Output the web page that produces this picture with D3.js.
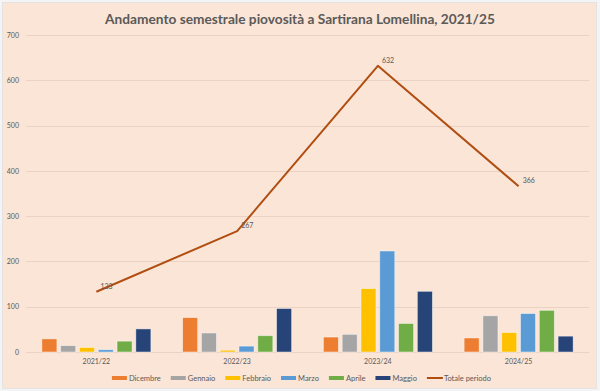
<!DOCTYPE html>
<html>
<head>
<meta charset="utf-8">
<script src="https://cdn.jsdelivr.net/npm/d3@7"></script>
<style>
  html, body { margin: 0; padding: 0; background: #f4f4f4; }
  svg { display: block; }
  text { font-family: Lato, "Open Sans", sans-serif; }
</style>
</head>
<body>
<svg id="chart" width="600" height="391"></svg>
<script>
const title = "Andamento semestrale piovosità a Sartirana Lomellina, 2021/25";
const categories = ["2021/22", "2022/23", "2023/24", "2024/25"];
const seriesNames = ["Dicembre", "Gennaio", "Febbraio", "Marzo", "Aprile", "Maggio"];
const seriesColors = ["#ED7D31", "#A5A5A5", "#FFC000", "#5B9BD5", "#70AD47", "#264478"];
const dicembre = [29, 76, 33, 31];
const gennaio  = [14, 42, 39, 80];
const febbraio = [10, 4, 140, 43];
const marzo    = [5, 13, 223, 85];
const aprile   = [24, 36, 63, 92];
const maggio   = [51, 96, 134, 35];
const totale   = [133, 267, 632, 366];
const totaleName = "Totale periodo";
const lineColor = "#B04E12";
const yTicks = [0, 100, 200, 300, 400, 500, 600, 700];

const seriesValues = [dicembre, gennaio, febbraio, marzo, aprile, maggio];

const svg = d3.select("#chart");
const W = 600, H = 391;
const textColor = "#595959";

// background
svg.append("rect").attr("x", 0).attr("y", 0).attr("width", W).attr("height", H).attr("fill", "#f4f4f4");
svg.append("rect").attr("x", 2.5).attr("y", 2.5).attr("width", 594).attr("height", 386)
  .attr("fill", "#FBE5D6").attr("stroke", "#e3e3e3").attr("stroke-width", 1);

const plot = { left: 26, right: 589, top: 35, bottom: 352 };

const x = d3.scaleBand().domain(categories).range([plot.left, plot.right]).padding(0);
const y = d3.scaleLinear().domain([0, 700]).range([plot.bottom, plot.top]);

// gridlines
svg.append("g").selectAll("line").data(yTicks).join("line")
  .attr("x1", plot.left).attr("x2", plot.right)
  .attr("y1", d => Math.round(y(d)) + 0.5).attr("y2", d => Math.round(y(d)) + 0.5)
  .attr("stroke", "#EAD3C4").attr("stroke-width", 1);

// y axis labels
const yAxis = d3.axisLeft(y).tickValues(yTicks).tickSize(0).tickPadding(0);
const yg = svg.append("g").attr("transform", `translate(${19},0)`).call(yAxis);
yg.select(".domain").remove();
yg.selectAll("text").attr("fill", textColor).style("font-size", "7px").style("font-family", "Lato, sans-serif");

// x axis labels
const xAxis = d3.axisBottom(x).tickSize(0).tickPadding(0);
const xg = svg.append("g").attr("transform", `translate(0,${plot.bottom + 7})`).call(xAxis);
xg.select(".domain").remove();
xg.selectAll("text").attr("fill", textColor).style("font-size", "7px").style("font-family", "Lato, sans-serif");

// bars
const groupHalf = 54.5;
const inner = d3.scaleBand().domain(seriesNames).paddingInner(0.2).paddingOuter(0);
categories.forEach((c, ci) => {
  const cx = x(c) + x.bandwidth() / 2;
  inner.range([cx - groupHalf, cx + groupHalf]);
  svg.append("g").selectAll("rect")
    .data(seriesNames.map((s, si) => ({ s, si, v: seriesValues[si][ci] })))
    .join("rect")
    .attr("x", d => inner(d.s))
    .attr("width", inner.bandwidth())
    .attr("y", d => y(d.v))
    .attr("height", d => y(0) - y(d.v))
    .attr("fill", d => seriesColors[d.si])
    .attr("stroke", "#ffffff").attr("stroke-opacity", 0.55).attr("stroke-width", 0.8);
});

// line
const line = d3.line()
  .x((d, i) => x(categories[i]) + x.bandwidth() / 2)
  .y(d => y(d));
svg.append("path").datum(totale).attr("d", line)
  .attr("fill", "none").attr("stroke", lineColor).attr("stroke-width", 2).attr("stroke-linejoin", "round");

// data labels
svg.append("g").selectAll("text").data(totale).join("text")
  .attr("x", (d, i) => x(categories[i]) + x.bandwidth() / 2 + 4)
  .attr("y", d => y(d) - 3)
  .attr("fill", textColor).style("font-size", "7px")
  .text(d => d);

// title
const t = svg.append("text").attr("x", 300).attr("y", 23.5).attr("text-anchor", "middle")
  .attr("fill", "#5a5a5a").style("font-size", "14px").style("font-weight", "bold")
  .style("font-family", "Lato, sans-serif").text(title);
const tw = t.node().getComputedTextLength();
t.style("font-size", (14 * 390 / tw).toFixed(2) + "px");

// legend
const legendItems = seriesNames.map((n, i) => ({ name: n, color: seriesColors[i], type: "bar" }))
  .concat([{ name: totaleName, color: lineColor, type: "line" }]);
const lg = svg.append("g");
let cursor = 0;
const ly = 378;
legendItems.forEach(it => {
  const g = lg.append("g").attr("transform", `translate(${cursor},0)`);
  if (it.type === "bar") {
    g.append("rect").attr("x", 0).attr("y", ly - 2).attr("width", 15).attr("height", 4).attr("fill", it.color);
  } else {
    g.append("line").attr("x1", 0).attr("x2", 16).attr("y1", ly).attr("y2", ly)
      .attr("stroke", it.color).attr("stroke-width", 2);
  }
  const tx = g.append("text").attr("x", 17).attr("y", ly + 2.5).attr("fill", textColor)
    .style("font-size", "7.5px").text(it.name);
  cursor += 17 + tx.node().getComputedTextLength() + 10;
});
cursor -= 10;
lg.attr("transform", `translate(${301.5 - cursor / 2},0)`);
</script>
</body>
</html>
